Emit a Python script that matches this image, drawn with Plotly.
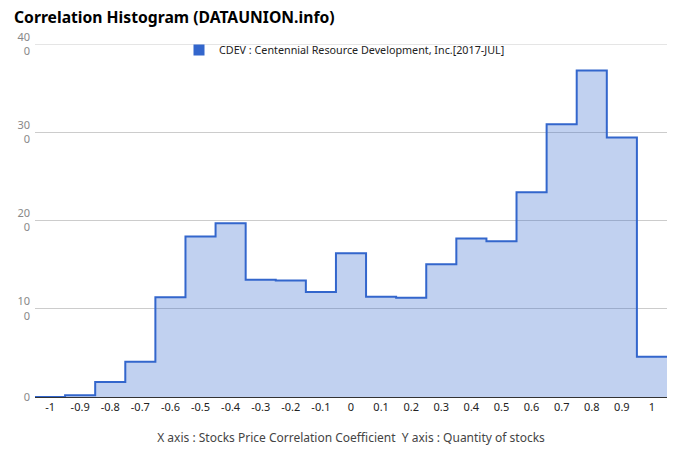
import plotly.graph_objects as go

# Data
centers = [-1.0, -0.9, -0.8, -0.7, -0.6, -0.5, -0.4, -0.3, -0.2, -0.1, 0.0,
           0.1, 0.2, 0.3, 0.4, 0.5, 0.6, 0.7, 0.8, 0.9, 1.0]
counts = [0.0, 0.2, 1.7, 4.0, 11.3, 18.2, 19.7, 13.3, 13.2, 11.9, 16.3,
          11.35, 11.25, 15.05, 17.95, 17.65, 23.2, 30.9, 37.0, 29.4, 4.55]
x_ticks = [-1, -0.9, -0.8, -0.7, -0.6, -0.5, -0.4, -0.3, -0.2, -0.1, 0,
           0.1, 0.2, 0.3, 0.4, 0.5, 0.6, 0.7, 0.8, 0.9, 1]
x_ticktext = ["-1", "-0.9", "-0.8", "-0.7", "-0.6", "-0.5", "-0.4", "-0.3", "-0.2", "-0.1", "0",
              "0.1", "0.2", "0.3", "0.4", "0.5", "0.6", "0.7", "0.8", "0.9", "1"]
y_ticks = [0, 10, 20, 30, 40]
y_ticktext = ["0", "10<br>0", "20<br>0", "30<br>0", "40<br>0"]
series_name = "CDEV : Centennial Resource Development, Inc.[2017-JUL]"
title_text = "Correlation Histogram (DATAUNION.info)"
axis_title = "X axis : Stocks Price Correlation Coefficient  Y axis : Quantity of stocks"

# Build step edges from bin centers
half = (centers[1] - centers[0]) / 2
edges_x = [c - half for c in centers] + [centers[-1] + half]
edges_y = counts + [counts[-1]]

FONT = "Noto Sans"
BLUE = "#3366CC"
GRID = "#cccccc"

fig = go.Figure()
fig.add_trace(go.Scatter(
    x=edges_x, y=edges_y, mode="lines", line=dict(shape="hv", color=BLUE, width=2),
    fill="tozeroy", fillcolor="rgba(51,102,204,0.3)", showlegend=False, hoverinfo="skip"))
fig.add_trace(go.Scatter(
    x=[None], y=[None], mode="markers", name=series_name,
    marker=dict(symbol="square", size=11, color=BLUE)))

# top gridline (plotly drops gridlines lying on the plot edge)
fig.add_hline(y=max(y_ticks), line=dict(color=GRID, width=1), layer="below")

fig.update_layout(
    width=680, height=462,
    margin=dict(l=35, r=13, t=44, b=65),
    paper_bgcolor="white", plot_bgcolor="white",
    font=dict(family=FONT, size=11, color="#222"),
    title=dict(text="<b>" + title_text + "</b>", x=14 / 680, xref="container", xanchor="left",
               y=1 - 18 / 462, yref="container", yanchor="middle",
               font=dict(size=15.7, color="#000", family=FONT)),
    legend=dict(orientation="h", x=(179 - 35) / 632, xanchor="left", y=1 - 6 / 353,
                yanchor="middle", yref="paper", font=dict(size=10.75, color="#222"),
                bgcolor="rgba(0,0,0,0)"),
    xaxis=dict(range=[-1.05, 1.05], tickvals=x_ticks, ticktext=x_ticktext, automargin=False,
               showgrid=False, zeroline=False, showline=True, linecolor="#333", linewidth=1,
               ticks="", tickfont=dict(size=11, color="#222"),
               title=dict(text=axis_title, font=dict(size=12, color="#444"), standoff=20)),
    yaxis=dict(range=[0, 40], tickvals=y_ticks, ticktext=y_ticktext, automargin=False,
               showgrid=True, gridcolor=GRID, zeroline=False, showline=False,
               ticks="", tickfont=dict(size=11, color="#888"), ticklabelstandoff=4),
)

fig.write_html("out.html", post_script="document.body.style.margin='0';",
               config={"displayModeBar": False})
